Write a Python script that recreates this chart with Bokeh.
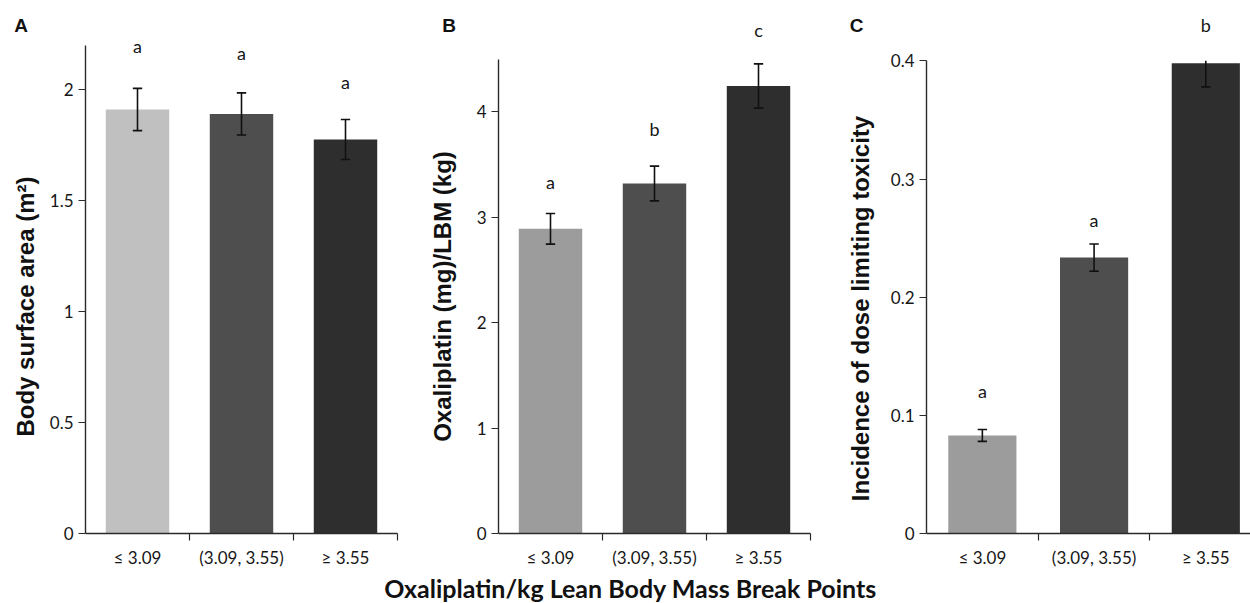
import numpy as np
from math import pi
from bokeh.plotting import figure
from bokeh.models import ColumnDataSource, FixedTicker, Range1d
from bokeh.layouts import row, column
from bokeh.core.properties import value
from bokeh.embed import file_html
from bokeh.resources import INLINE

# ---------------- data ----------------
categories = ["≤ 3.09", "(3.09, 3.55)", "≥ 3.55"]

bsa_mean = [1.91, 1.89, 1.775]
bsa_err = [0.095, 0.095, 0.09]
bsa_letters = ["a", "a", "a"]

oxa_mean = [2.89, 3.32, 4.245]
oxa_err = [0.145, 0.165, 0.21]
oxa_letters = ["a", "b", "c"]

dlt_mean = [0.083, 0.2335, 0.398]
dlt_err = [0.005, 0.0115, 0.02]
dlt_letters = ["a", "a", "b"]

y_titles = ["Body surface area (m²)", "Oxaliplatin (mg)/LBM (kg)",
            "Incidence of dose limiting toxicity"]
panel_letters = ["A", "B", "C"]
x_title = "Oxaliplatin/kg Lean Body Mass Break Points"

# ---------------- style ----------------
AXIS_COLOR = "#2b2b2b"
TEXT_COLOR = "#161616"
TICK_FONT = "Lato"
TITLE_FONT = "Liberation Sans"
W, H = 1250, 603


def panel(width, border_left, border_right, x_end, y_end, axis_top,
          yticks, ylabels, means, errs, letters, colors, letter_pads,
          cap_half):
    centers = [i + 0.5 for i in range(len(categories))]
    means = np.array(means, dtype=float)
    errs = np.array(errs, dtype=float)
    lower = means - errs
    upper = means + errs
    shown_upper = np.minimum(upper, axis_top)

    p = figure(width=width, height=H, x_range=Range1d(0, x_end),
               y_range=Range1d(0, y_end), output_backend="svg",
               toolbar_location=None, min_border_left=border_left,
               min_border_right=border_right, min_border_top=8,
               min_border_bottom=70)
    p.outline_line_color = None
    p.xgrid.grid_line_color = None
    p.ygrid.grid_line_color = None
    p.background_fill_color = "white"
    p.border_fill_color = "white"

    src = ColumnDataSource(dict(x=centers, top=means, color=colors,
                                lower=lower, upper=upper, shown=shown_upper,
                                letter=letters,
                                pad=[-v for v in letter_pads]))
    p.vbar(x="x", top="top", bottom=0, width=0.61, fill_color="color",
           line_color=None, source=src)

    # error bars
    p.segment(x0="x", y0="lower", x1="x", y1="shown", source=src,
              line_color="#111111", line_width=1.6)
    p.segment(x0=[c - cap_half for c in centers], y0=list(lower),
              x1=[c + cap_half for c in centers], y1=list(lower),
              line_color="#111111", line_width=1.6)
    ci = [i for i in range(len(centers)) if upper[i] <= axis_top]
    p.segment(x0=[centers[i] - cap_half for i in ci], y0=[upper[i] for i in ci],
              x1=[centers[i] + cap_half for i in ci], y1=[upper[i] for i in ci],
              line_color="#111111", line_width=1.6)

    # significance letters
    p.text(x="x", y="upper", text="letter", y_offset="pad", source=src,
           text_align="center", text_baseline="middle",
           text_font=value(TICK_FONT), text_font_size="18px",
           text_color=TEXT_COLOR)

    # y axis
    ya = p.yaxis[0]
    ya.ticker = FixedTicker(ticks=yticks)
    ya.major_label_overrides = {t: l for t, l in zip(yticks, ylabels)}
    ya.bounds = (0, axis_top)
    ya.major_tick_out = 7
    ya.major_tick_in = 0
    ya.minor_tick_line_color = None
    ya.axis_line_color = AXIS_COLOR
    ya.axis_line_width = 1.4
    ya.major_tick_line_color = AXIS_COLOR
    ya.major_tick_line_width = 1.2
    ya.major_label_text_font = TICK_FONT
    ya.major_label_text_font_size = "17px"
    ya.major_label_text_color = TEXT_COLOR
    ya.major_label_standoff = 5

    # x axis: labels at bar centres, ticks between categories
    xa = p.xaxis[0]
    xa.ticker = FixedTicker(ticks=centers, minor_ticks=[1, 2, 3])
    xa.major_label_overrides = {c: t for c, t in zip(centers, categories)}
    xa.bounds = (0, 3)
    xa.major_tick_line_color = None
    xa.major_tick_out = 0
    xa.major_tick_in = 0
    xa.minor_tick_out = 7
    xa.minor_tick_in = 0
    xa.minor_tick_line_color = AXIS_COLOR
    xa.minor_tick_line_width = 1.2
    xa.axis_line_color = AXIS_COLOR
    xa.axis_line_width = 1.4
    xa.major_label_text_font = TICK_FONT
    xa.major_label_text_font_size = "17px"
    xa.major_label_text_color = TEXT_COLOR
    xa.major_label_standoff = 6
    return p


pA = panel(420, 85, 23, 3.0, 2.365, 2.2,
           [0, 0.5, 1, 1.5, 2], ["0", "0.5", "1", "1.5", "2"],
           bsa_mean, bsa_err, bsa_letters,
           ["#c0c0c0", "#4e4e4e", "#2e2e2e"], [42, 40, 37], 0.045)

pB = panel(410, 78, 20, 3.0, 4.98, 4.5,
           [0, 1, 2, 3, 4], ["0", "1", "2", "3", "4"],
           oxa_mean, oxa_err, oxa_letters,
           ["#9c9c9c", "#4e4e4e", "#2e2e2e"], [32, 37, 34], 0.045)

pC = panel(420, 96, 0, 2.9, 0.4443, 0.4,
           [0, 0.1, 0.2, 0.3, 0.4], ["0", "0.1", "0.2", "0.3", "0.4"],
           dlt_mean, dlt_err, dlt_letters,
           ["#9c9c9c", "#4e4e4e", "#2e2e2e"], [39, 24, 15], 0.042)

# transparent overlay (page pixel coordinates) for texts outside the frames
ov = figure(width=W, height=H, x_range=Range1d(0, W), y_range=Range1d(H, 0),
            x_axis_type=None, y_axis_type=None, output_backend="svg",
            toolbar_location=None, min_border=0,
            background_fill_color=None, border_fill_color=None)
ov.outline_line_color = None
ov.xgrid.visible = False
ov.ygrid.visible = False

ov.text(x=[25, 442, 860], y=[306, 296, 308], text=y_titles, angle=pi / 2,
        text_align="center", text_baseline="middle",
        text_font=value(TITLE_FONT), text_font_style="bold",
        text_font_size="24px", text_color="#111111")
ov.text(x=[20.5, 448.5, 856], y=[25, 25, 25], text=panel_letters,
        text_align="center", text_baseline="middle",
        text_font=value(TITLE_FONT), text_font_style="bold",
        text_font_size="19px", text_color="#111111")
ov.text(x=[630], y=[587], text=[x_title], text_align="center",
        text_baseline="middle", text_font=value(TICK_FONT),
        text_font_style="bold", text_font_size="25px", text_color="#111111")
ov.margin = (-H, 0, 0, 0)

layout = column(row(pA, pB, pC), ov)
open("out.html", "w").write(file_html(layout, INLINE))
